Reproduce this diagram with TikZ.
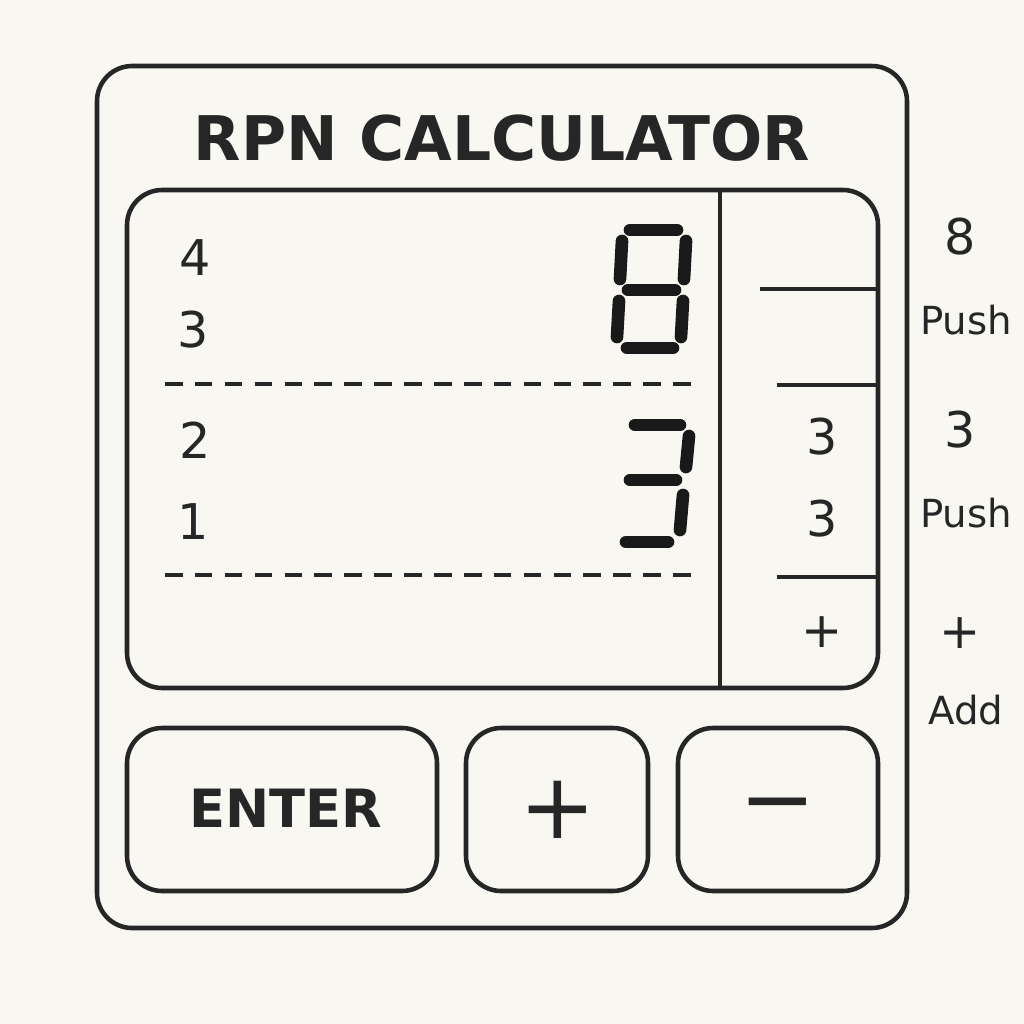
\documentclass[tikz,border=0pt]{standalone}
\usepackage{fontspec}
\setmainfont{DejaVu Sans}
\definecolor{paper}{HTML}{F8F7F2}
\begin{document}
\begin{tikzpicture}[x=0.01cm, y=-0.01cm,
  frame/.style={draw=black!85, line width=1.3pt, rounded corners=10pt},
  rule/.style={draw=black!85, line width=1.1pt},
  dashrule/.style={draw=black!85, line width=0.9pt, dash pattern=on 5pt off 3.5pt},
  seg/.style={draw=black!90, line width=3.6pt, line cap=round},
  stack/.style={font=\fontsize{14}{16}\selectfont, text=black!85},
  note/.style={font=\fontsize{11}{13}\selectfont, text=black!85}]

% Background
\fill[paper] (0,0) rectangle (1024,1024);

% Case and display
\draw[frame] (97,66) rectangle (907,928);
\node[font=\bfseries\fontsize{17.5}{21}\selectfont, text=black!85] (title) at (502,138) {RPN CALCULATOR};
\draw[frame] (127,190) rectangle (878,688);
\draw[rule] (720,190) -- (720,688);
\draw[rule] (760,289) -- (876,289);
\draw[rule] (777,385) -- (876,385);
\draw[rule] (777,577) -- (876,577);
\draw[dashrule] (165,384) -- (697,384);
\draw[dashrule] (165,575) -- (697,575);

% Stack
\node[stack] (s4) at (195,258) {4};
\node[stack] (s3) at (193,330) {3};
\node[stack] (s2) at (195,440) {2};
\node[stack] (s1) at (193,522) {1};

% Seven segment digits
\draw[seg] (630,230) -- (677,230);
\draw[seg] (622,241) -- (620,279);
\draw[seg] (686,241) -- (684,279);
\draw[seg] (628,290) -- (675,290);
\draw[seg] (619,301) -- (617,337);
\draw[seg] (683,301) -- (681,337);
\draw[seg] (627,348) -- (673,348);

\draw[seg] (635,425) -- (680,425);
\draw[seg] (689,436) -- (686,467);
\draw[seg] (630,480) -- (676,480);
\draw[seg] (683,495) -- (680,530);
\draw[seg] (626,542) -- (668,542);

% Column and notes
\node[stack] (c3a) at (822,437) {3};
\node[stack] (c3b) at (822,519) {3};
\node[stack] (cplus) at (822,632) {+};
\node[stack] (n8) at (960,237) {8};
\node[note] (np1) at (966,320) {Push};
\node[stack] (n3) at (960,430) {3};
\node[note] (np2) at (966,513) {Push};
\node[stack] (nplus) at (960,633) {+};
\node[note] (nadd) at (966,710) {Add};

% Keys
\draw[frame] (127,728) rectangle (437,891);
\draw[frame] (466,728) rectangle (648,891);
\draw[frame] (678,728) rectangle (878,891);
\node[font=\bfseries\fontsize{15}{18}\selectfont, text=black!85] (enter) at (286,808) {ENTER};
\node[font=\fontsize{26}{30}\selectfont, text=black!85] (plus) at (558,810) {+};
\node[font=\fontsize{26}{30}\selectfont, text=black!85] (minus) at (778,814) {−};
\end{tikzpicture}
\end{document}
